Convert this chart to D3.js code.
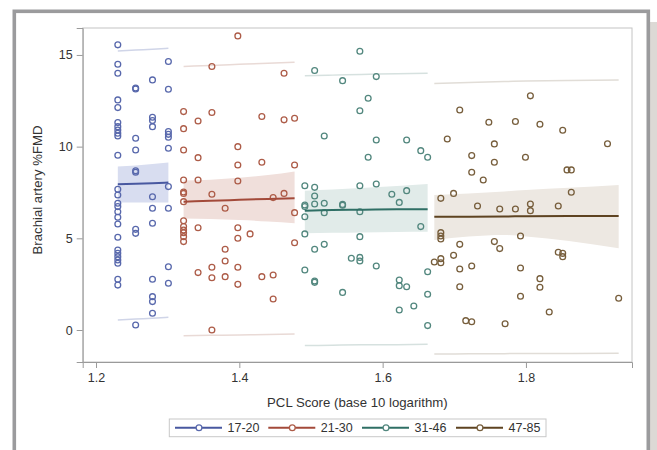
<!DOCTYPE html>
<html><head><meta charset="utf-8">
<script src="https://cdn.jsdelivr.net/npm/d3@7"></script>
<style>body{margin:0;background:#fff}svg{display:block}text{font-family:"Liberation Sans",Arial,sans-serif}</style>
</head><body><svg id="c" width="657" height="450"></svg>
<script>
// ---- data (x = log10 PCL score, y = Brachial artery %FMD) ----
const groups = ["17-20","21-30","31-46","47-85"];
const xTicks = [1.2,1.4,1.6,1.8];
const yTicks = [0,5,10,15];

const g1X = [1.2304,1.2304,1.2304,1.2304,1.2304,1.2304,1.2304,1.2304,1.2304,1.2304,1.2304,1.2304,1.2304,1.2304,1.2304,1.2304,1.2304,1.2304,1.2304,1.2304,1.2304,1.2304,1.2304,1.2304,1.2304,1.2304,
 1.2553,1.2553,1.2553,1.2553,1.2553,1.2553,1.2553,1.2553,1.2553,
 1.2788,1.2788,1.2788,1.2788,1.2788,1.2788,1.2788,1.2788,1.2788,1.2788,1.2788,
 1.3010,1.3010,1.3010,1.3010,1.3010,1.3010,1.3010,1.3010,1.3010,1.3010];
const g1Y = [15.55,14.49,14.0,12.55,12.13,11.31,11.09,10.91,10.73,10.58,9.53,7.67,7.36,6.91,6.73,6.45,6.15,5.78,5.06,4.36,4.18,4.0,3.82,3.64,2.77,2.45,
 13.2,13.15,10.46,9.82,8.68,8.6,5.49,5.27,0.27,
 13.64,11.6,11.42,11.09,7.27,6.64,5.82,2.77,1.82,1.55,0.91,
 14.64,13.13,10.82,10.67,10.51,9.91,7.82,6.64,3.45,2.55];

const g2X = [1.3222,1.3222,1.3222,1.3222,1.3222,1.3222,1.3222,1.3222,1.3222,1.3222,1.3222,1.3222,1.3222,
 1.3424,1.3424,1.3424,1.3424,1.3424,
 1.3617,1.3617,1.3617,1.3617,1.3617,1.3617,
 1.3802,1.3802,1.3802,1.3802,
 1.3979,1.3979,1.3979,1.3979,1.3979,1.3979,1.3979,1.3979,
 1.4150,
 1.4314,1.4314,1.4314,
 1.4472,1.4472,1.4472,
 1.4624,1.4624,1.4624,
 1.4771,1.4771,1.4771,1.4771];
const g2Y = [11.91,10.98,9.82,8.18,7.53,7.45,7.0,5.96,5.64,5.45,5.31,5.09,4.82,
 11.4,9.4,8.18,5.58,3.13,
 14.37,11.86,7.4,3.42,2.85,0.0,
 6.64,4.4,3.76,2.91,
 16.04,10.0,9.0,8.13,5.58,5.0,3.42,2.49,
 5.24,
 11.64,9.15,2.91,
 7.22,3.0,1.69,
 14.0,11.46,7.45,
 11.55,9.0,6.4,4.76];

const g3X = [1.4914,1.4914,1.4914,1.4914,1.4914,1.4914,
 1.5051,1.5051,1.5051,1.5051,1.5051,1.5051,1.5051,
 1.5185,1.5185,1.5185,1.5185,
 1.5441,1.5441,1.5441,1.5441,
 1.5563,
 1.5682,1.5682,1.5682,1.5682,1.5682,1.5682,1.5682,
 1.5798,1.5798,
 1.5911,1.5911,1.5911,1.5911,
 1.6128,
 1.6232,1.6232,1.6232,1.6232,
 1.6335,1.6335,1.6335,
 1.6435,
 1.6532,1.6532,
 1.6628,1.6628,1.6628,1.6628];
const g3Y = [7.87,6.82,6.73,6.18,5.24,3.27,
 14.15,7.78,7.31,6.87,4.4,2.67,2.6,
 10.58,6.91,6.4,4.67,
 13.6,6.85,6.8,2.05,
 3.91,
 15.2,11.96,7.87,6.45,5.09,3.96,3.76,
 12.64,9.42,
 13.82,10.36,7.96,3.49,
 7.4,
 6.96,2.73,2.42,1.09,
 10.36,7.6,2.36,
 1.31,
 9.78,5.64,
 9.42,3.18,1.95,0.24];

const g4X = [1.6721,
 1.6812,1.6812,1.6812,1.6812,1.6812,1.6812,
 1.6902,
 1.6990,1.6990,
 1.7076,1.7076,1.7076,1.7076,
 1.7160,
 1.7243,1.7243,1.7243,1.7243,
 1.7324,1.7404,1.7482,
 1.7559,1.7559,1.7559,
 1.7634,1.7634,
 1.7709,
 1.7853,1.7853,
 1.7924,1.7924,1.7924,
 1.7993,
 1.8062,1.8062,1.8062,
 1.8195,1.8195,1.8195,
 1.8325,
 1.8451,1.8451,
 1.8513,1.8513,1.8513,
 1.8573,
 1.8633,1.8633,
 1.9138,1.9294];
const g4Y = [3.71,
 7.18,5.31,5.13,4.96,3.89,3.67,
 10.42,
 7.45,4.07,
 12.0,4.67,3.33,2.36,
 0.51,
 9.51,8.6,3.49,0.45,
 6.76,8.18,11.33,
 10.15,9.15,4.82,
 6.6,4.44,
 0.34,
 11.37,6.6,
 5.13,3.38,1.84,
 9.42,
 12.77,6.87,6.51,
 11.22,2.8,2.33,
 0.98,
 6.76,4.24,
 10.89,4.18,4.0,
 8.73,
 8.73,7.51,
 10.16,1.73];

// fitted line, confidence band and prediction limits per group
const fit1X = [1.2304,1.2553,1.2788,1.3010];
const fit1 = [7.95,7.97,8.0,8.04];
const clmU1 = [8.91,8.97,9.05,9.13];
const clmL1 = [6.95,6.95,6.95,6.95];
const clU1 = [15.22,15.27,15.31,15.36];
const clL1 = [0.55,0.6,0.64,0.69];

const fit2X = [1.3222,1.36,1.40,1.44,1.4771];
const fit2 = [7.0,7.05,7.1,7.15,7.18];
const clmU2 = [8.16,8.2,8.3,8.45,8.65];
const clmL2 = [6.08,6.05,6.0,5.92,5.82];
const clU2 = [14.37,14.43,14.49,14.55,14.6];
const clL2 = [-0.31,-0.29,-0.27,-0.24,-0.22];

const fit3X = [1.4914,1.53,1.57,1.62,1.6628];
const fit3 = [6.51,6.55,6.56,6.58,6.58];
const clmU3 = [7.6,7.66,7.75,7.86,7.96];
const clmL3 = [5.27,5.3,5.32,5.35,5.36];
const clU3 = [13.87,13.9,13.94,13.97,14.0];
const clL3 = [-0.85,-0.83,-0.81,-0.8,-0.78];

const fit4X = [1.6721,1.72,1.77,1.80,1.86,1.9294];
const fit4 = [6.18,6.18,6.19,6.21,6.22,6.22];
const clmU4 = [7.36,7.45,7.56,7.64,7.76,7.91];
const clmL4 = [4.91,5.1,5.18,5.1,4.85,4.46];
const clU4 = [13.45,13.5,13.55,13.58,13.61,13.64];
const clL4 = [-1.31,-1.3,-1.29,-1.28,-1.28,-1.27];

// ---- drawing ----
const markerCol = ["#5868ac","#ad5c48","#52877e","#775e3c"];
const lineCol = ["#4858a0","#a34a3a","#2f6f65","#5e4321"];
const bandCol = ["#d8ddf0","#f0dfdb","#e1ebe9","#ede8e2"];
const piCol = ["#d0d5e8","#e9dad6","#d6e1df","#e1ddd7"];

const svg = d3.select("#c");
const L = 82.7, R = 632, T = 28, B = 362;
const x = d3.scaleLinear().domain([1.1814,1.948]).range([L,R]);
const y = d3.scaleLinear().domain([-1.745,16.47]).range([B,T]);

// outer frame
svg.append("rect").attr("x",650).attr("y",22).attr("width",7).attr("height",428).attr("fill","#dcd9d5");
svg.append("rect").attr("x",14.3).attr("y",11.3).attr("width",634).attr("height",470)
  .attr("fill","#fff").attr("stroke","#9b9b9d").attr("stroke-width",3.6);

// plot border
svg.append("rect").attr("x",L).attr("y",T).attr("width",R-L).attr("height",B-T)
  .attr("fill","#fff").attr("stroke","#c4c4c4").attr("stroke-width",1);

const pts = [[g1X,g1Y],[g2X,g2Y],[g3X,g3Y],[g4X,g4Y]];
const fits = [
  [fit1X,fit1,clmU1,clmL1,clU1,clL1],
  [fit2X,fit2,clmU2,clmL2,clU2,clL2],
  [fit3X,fit3,clmU3,clmL3,clU3,clL3],
  [fit4X,fit4,clmU4,clmL4,clU4,clL4]];

const curve = d3.curveMonotoneX;
fits.forEach((f,i)=>{
  const d = f[0].map((xv,k)=>({x:xv,fit:f[1][k],u:f[2][k],l:f[3][k],pu:f[4][k],pl:f[5][k]}));
  svg.append("path").datum(d).attr("fill",bandCol[i])
    .attr("d",d3.area().curve(curve).x(p=>x(p.x)).y0(p=>y(p.l)).y1(p=>y(p.u)));
  ["pu","pl"].forEach(k=>{
    svg.append("path").datum(d).attr("fill","none").attr("stroke",piCol[i]).attr("stroke-width",1.5)
      .attr("d",d3.line().curve(curve).x(p=>x(p.x)).y(p=>y(p[k])));
  });
});

pts.forEach((p,i)=>{
  svg.append("g").selectAll("circle").data(p[0].map((xv,k)=>[xv,p[1][k]])).join("circle")
    .attr("cx",d=>x(d[0])).attr("cy",d=>y(d[1])).attr("r",2.9)
    .attr("fill","none").attr("stroke",markerCol[i]).attr("stroke-width",1.3);
});

fits.forEach((f,i)=>{
  const d = f[0].map((xv,k)=>({x:xv,fit:f[1][k]}));
  svg.append("path").datum(d).attr("fill","none").attr("stroke",lineCol[i]).attr("stroke-width",2)
    .attr("d",d3.line().curve(curve).x(p=>x(p.x)).y(p=>y(p.fit)));
});

// axes
const ya = svg.append("g").attr("transform",`translate(${L},0)`)
  .call(d3.axisLeft(y).tickValues(yTicks).tickSize(6).tickPadding(4).tickFormat(d3.format("d")));
const xa = svg.append("g").attr("transform",`translate(0,${B})`)
  .call(d3.axisBottom(x).tickValues(xTicks).tickSize(6).tickPadding(5).tickFormat(d3.format(".1f")));
[ya,xa].forEach(a=>{
  a.select(".domain").attr("stroke","#9a9a9a");
  a.selectAll(".tick line").attr("stroke","#9a9a9a");
  a.selectAll(".tick text").attr("fill","#333").attr("font-size",12.5)
    .attr("font-family",'"Liberation Sans",Arial,sans-serif');
});

svg.append("text").attr("x",(L+R)/2).attr("y",406.5).attr("text-anchor","middle")
  .attr("font-size",13.2).attr("fill","#333").text("PCL Score (base 10 logarithm)");
svg.append("text").attr("transform",`translate(41.5,${(T+B)/2-5}) rotate(-90)`).attr("text-anchor","middle")
  .attr("font-size",13.2).attr("fill","#333").text("Brachial artery %FMD");

// legend
svg.append("rect").attr("x",169.3).attr("y",419).attr("width",376.7).attr("height",17.7)
  .attr("fill","#fff").attr("stroke","#c8c8c8");
const legX = [175,268.3,362,456];
groups.forEach((g,i)=>{
  const lx = legX[i], ly = 427.8;
  svg.append("line").attr("x1",lx).attr("x2",lx+47).attr("y1",ly).attr("y2",ly)
    .attr("stroke",lineCol[i]).attr("stroke-width",2);
  svg.append("circle").attr("cx",lx+24).attr("cy",ly).attr("r",2.9)
    .attr("fill","#fff").attr("stroke",markerCol[i]).attr("stroke-width",1.3);
  svg.append("text").attr("x",lx+52.5).attr("y",ly+4.4).attr("font-size",12.5).attr("fill","#333").text(g);
});
</script></body></html>
